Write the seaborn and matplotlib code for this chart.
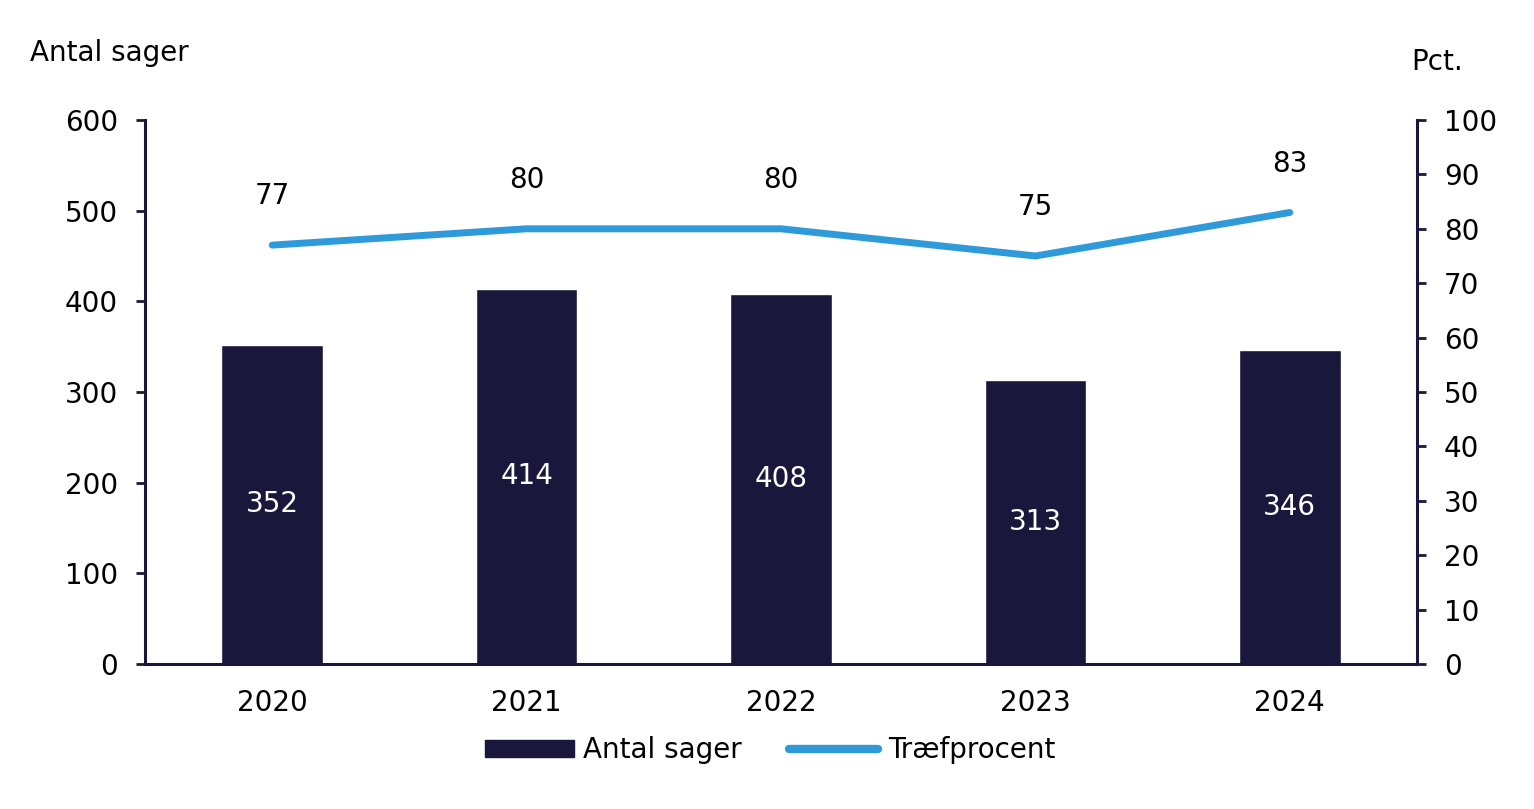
import matplotlib
matplotlib.use("Agg")
import matplotlib.pyplot as plt
import seaborn as sns
import pandas as pd
from matplotlib.patches import Patch
from matplotlib.lines import Line2D

years = ["2020", "2021", "2022", "2023", "2024"]
cases = [352, 414, 408, 313, 346]
hit_rate = [77, 80, 80, 75, 83]
left_ticks = [0, 100, 200, 300, 400, 500, 600]
right_ticks = [0, 10, 20, 30, 40, 50, 60, 70, 80, 90, 100]

NAVY = "#1a173d"
BLUE = "#2e9ad9"
FS = 20

sns.set_theme(style="white")
plt.rcParams["font.family"] = ["DejaVu Sans"]
plt.rcParams["text.color"] = "black"

df = pd.DataFrame({"year": years, "cases": cases, "rate": hit_rate})

fig = plt.figure(figsize=(15.34, 8.09), dpi=100)
ax = fig.add_axes([145/1534, 1 - 664/809, (1417-145)/1534, (664-120)/809])

sns.barplot(data=df, x="year", y="cases", color=NAVY, width=0.4, saturation=1, ax=ax)
ax.set_ylim(0, 600)
ax.set_xlim(-0.5, 4.5)
ax.set_yticks(left_ticks)
ax.set_xlabel("")
ax.set_ylabel("")
for c in ax.containers:
    ax.bar_label(c, labels=[str(v) for v in cases], label_type="center",
                 color="white", fontsize=FS)

ax2 = ax.twinx()
sns.lineplot(data=df, x="year", y="rate", color=BLUE, linewidth=5,
             solid_capstyle="round", ax=ax2, sort=False)
ax2.set_ylim(0, 100)
ax2.set_yticks(right_ticks)
ax2.set_ylabel("")
ax2.set_xlabel("")
for i, v in enumerate(hit_rate):
    ax2.text(i, v + 9, str(v), ha="center", va="center", fontsize=FS, color="black")

for a in (ax, ax2):
    for s in a.spines.values():
        s.set_visible(False)
    a.tick_params(axis="y", length=6.5, width=2, color=NAVY, labelsize=FS,
                  labelcolor="black", pad=13)
    a.tick_params(axis="x", length=0, labelsize=FS, labelcolor="black", pad=18)

ax.spines["left"].set_visible(True)
ax.spines["left"].set_color(NAVY)
ax.spines["left"].set_linewidth(2.2)
ax.spines["bottom"].set_visible(True)
ax.spines["bottom"].set_color(NAVY)
ax.spines["bottom"].set_linewidth(2.2)
ax2.spines["right"].set_visible(True)
ax2.spines["right"].set_color(NAVY)
ax2.spines["right"].set_linewidth(2.2)
ax.tick_params(axis="y", left=True, labelleft=True)
ax2.tick_params(axis="y", right=True, labelright=True)

fig.text(30/1534, 1 - 53/809, "Antal sager", fontsize=FS, ha="left", va="center",
         color="black")
fig.text(1463/1534, 1 - 62/809, "Pct.", fontsize=FS, ha="right", va="center",
         color="black")

handles = [Patch(facecolor=NAVY, edgecolor=NAVY),
           Line2D([0], [0], color=BLUE, linewidth=6, solid_capstyle="round")]
leg = fig.legend(handles, ["Antal sager", "Træfprocent"], loc="center",
                 bbox_to_anchor=(770/1534, 1 - 750/809), ncol=2, frameon=False,
                 fontsize=FS, handlelength=3.2, handleheight=0.55, handletextpad=0.35,
                 columnspacing=1.7)
for t in leg.get_texts():
    t.set_color("black")

fig.savefig("out.png", dpi=100)
